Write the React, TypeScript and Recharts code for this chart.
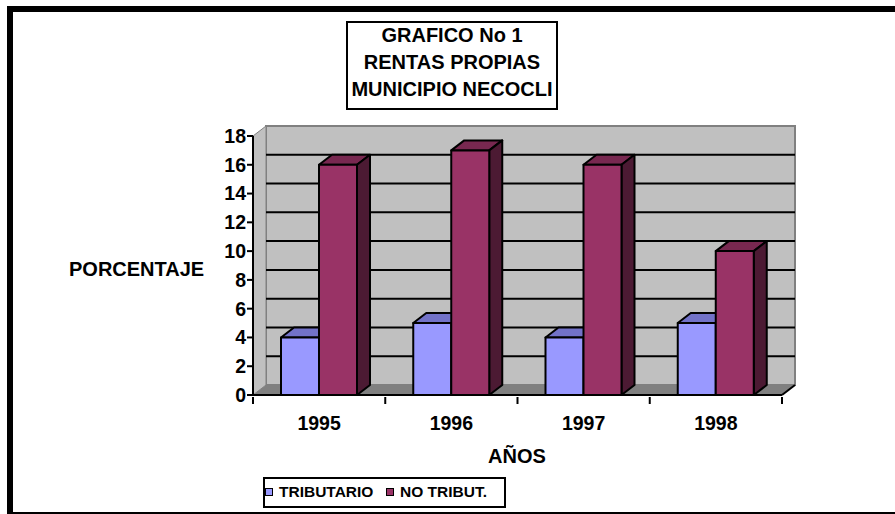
import {
  BarChart,
  Bar,
  XAxis,
  YAxis,
  CartesianGrid,
  ReferenceArea,
} from "recharts";

const years = ["1995", "1996", "1997", "1998"];
const tributario = [4, 5, 4, 5];
const noTributario = [16, 17, 16, 10];
const yTicks = [0, 2, 4, 6, 8, 10, 12, 14, 16, 18];
const seriesNames = ["TRIBUTARIO", "NO TRIBUT."];

const FONT = "Arial, 'Liberation Sans', sans-serif";
const DX = 13;
const DY = 10;
const LEFT = 253;
const TOP = 136;
const RIGHT = 782;
const BOTTOM = 395;
const BAND = (RIGHT - LEFT) / years.length;

const faces: any = {
  "#9999FF": { top: "#7272C8", side: "#5050A0" },
  "#993366": { top: "#782850", side: "#4C1A33" },
};

const chartData = years.map((y, i) => ({
  year: y,
  trib: tributario[i],
  noTrib: noTributario[i],
}));

const Bar3D = (props: any) => {
  const { x, y, width: w, height: h, fill } = props;
  if (h == null || w == null) return null;
  const f = faces[fill];
  return (
    <g stroke="#000" strokeWidth={2} strokeLinejoin="round">
      <polygon
        points={`${x},${y} ${x + DX},${y - DY} ${x + w + DX},${y - DY} ${x + w},${y}`}
        fill={f.top}
      />
      <polygon
        points={`${x + w},${y} ${x + w + DX},${y - DY} ${x + w + DX},${y + h - DY} ${x + w},${y + h}`}
        fill={f.side}
      />
      <rect x={x} y={y} width={w} height={h} fill={fill} />
    </g>
  );
};

const Walls = (props: any) => {
  const { x, y, width: w, height: h } = props;
  return (
    <g>
      {/* back wall */}
      <rect
        x={x + DX}
        y={y - DY}
        width={w}
        height={h}
        fill="#C0C0C0"
        stroke="#808080"
        strokeWidth={2}
      />
      {/* side wall */}
      <polygon
        points={`${x},${y} ${x + DX},${y - DY} ${x + DX},${y + h - DY} ${x},${y + h}`}
        fill="#C0C0C0"
        stroke="#808080"
        strokeWidth={1}
      />
      {/* floor */}
      <polygon
        points={`${x},${y + h} ${x + DX},${y + h - DY} ${x + w + DX},${y + h - DY} ${x + w},${y + h}`}
        fill="#808080"
      />
      <line
        x1={x + w}
        y1={y + h}
        x2={x + w + DX}
        y2={y + h - DY}
        stroke="#000"
        strokeWidth={2}
      />
    </g>
  );
};

const GridLine = (p: any) => {
  if (p.y1 <= TOP + 1 || p.y1 >= BOTTOM - 1) return <g key={p.key} />;
  return (
    <line
      key={p.key}
      x1={p.x1 + DX}
      x2={p.x2 + DX}
      y1={p.y1 - DY}
      y2={p.y2 - DY}
      stroke="#000"
      strokeWidth={2}
    />
  );
};

const YearTick = (props: any) => {
  const { x, y, payload, index } = props;
  const left = x - BAND / 2;
  return (
    <g>
      <line x1={left} y1={y} x2={left} y2={y + 7} stroke="#000" strokeWidth={2} />
      {index === years.length - 1 && (
        <line x1={x + BAND / 2} y1={y} x2={x + BAND / 2} y2={y + 7} stroke="#000" strokeWidth={2} />
      )}
      <text
        x={x}
        y={y + 33}
        textAnchor="middle"
        fill="#000"
        fontSize={19.5}
        fontWeight="bold"
        fontFamily={FONT}
      >
        {payload.value}
      </text>
    </g>
  );
};

const textStyle: any = {
  position: "absolute",
  fontFamily: FONT,
  fontWeight: "bold",
  color: "#000",
  whiteSpace: "nowrap",
};

export default function App() {
  return (
    <div
      style={{
        position: "absolute",
        left: 0,
        top: 0,
        width: 895,
        height: 514,
        overflow: "hidden",
        background: "#fff",
      }}
    >
      <div
        style={{
          position: "absolute",
          left: 7,
          top: 6,
          width: 1000,
          height: 512,
          boxSizing: "border-box",
          borderTop: "6px solid #000",
          borderLeft: "6px solid #000",
          borderBottom: "6px solid #000",
        }}
      />
      <div style={{ position: "absolute", left: 0, top: 0 }}>
        <BarChart
          width={895}
          height={514}
          data={chartData}
          margin={{ left: LEFT - 60, top: TOP, right: 895 - RIGHT, bottom: 514 - BOTTOM - 30 }}
          barGap={0}
          barSize={38}
        >
          <ReferenceArea y1={0} y2={18} shape={Walls} zIndex={-200} ifOverflow="visible" />
          <CartesianGrid vertical={false} horizontal={GridLine} />
          <XAxis
            dataKey="year"
            axisLine={{ stroke: "#000", strokeWidth: 2 }}
            tickLine={false}
            tickSize={0}
            tick={<YearTick />}
            interval={0}
          />
          <YAxis
            width={60}
            domain={[0, 18]}
            ticks={yTicks}
            interval={0}
            axisLine={{ stroke: "#000", strokeWidth: 2 }}
            tickLine={{ stroke: "#000", strokeWidth: 2 }}
            tickSize={6}
            tickMargin={1}
            tick={{ fill: "#000", fontSize: 19.5, fontWeight: "bold", fontFamily: FONT }}
          />
          <Bar dataKey="trib" name={seriesNames[0]} fill="#9999FF" shape={Bar3D} isAnimationActive={false} />
          <Bar dataKey="noTrib" name={seriesNames[1]} fill="#993366" shape={Bar3D} isAnimationActive={false} />
        </BarChart>
      </div>

      {/* title */}
      <div
        style={{
          position: "absolute",
          left: 346,
          top: 21,
          width: 212,
          height: 89,
          boxSizing: "border-box",
          border: "2px solid #000",
          background: "#fff",
        }}
      />
      {["GRAFICO No 1", "RENTAS PROPIAS", "MUNICIPIO NECOCLI"].map((t, i) => (
        <div
          key={t}
          style={{
            ...textStyle,
            left: 346,
            width: 212,
            textAlign: "center",
            top: 24 + i * 27,
            fontSize: 20,
            lineHeight: "22px",
          }}
        >
          {t}
        </div>
      ))}

      <div style={{ ...textStyle, left: 69, top: 258, fontSize: 20, lineHeight: "22px" }}>
        PORCENTAJE
      </div>
      <div style={{ ...textStyle, left: 488, top: 445, fontSize: 20, lineHeight: "22px" }}>
        AÑOS
      </div>

      {/* legend */}
      <div
        style={{
          position: "absolute",
          left: 263,
          top: 477,
          width: 243,
          height: 31,
          boxSizing: "border-box",
          border: "2px solid #000",
          background: "#fff",
        }}
      />
      {seriesNames.map((n, i) => (
        <div key={n}>
          <div
            style={{
              position: "absolute",
              left: i === 0 ? 265 : 386,
              top: 488,
              width: 8,
              height: 8,
              boxSizing: "border-box",
              border: "1px solid #000",
              background: i === 0 ? "#9999FF" : "#993366",
            }}
          />
          <div
            style={{
              ...textStyle,
              left: i === 0 ? 279 : 400,
              top: 483,
              fontSize: 15.5,
              lineHeight: "18px",
            }}
          >
            {n}
          </div>
        </div>
      ))}
    </div>
  );
}
